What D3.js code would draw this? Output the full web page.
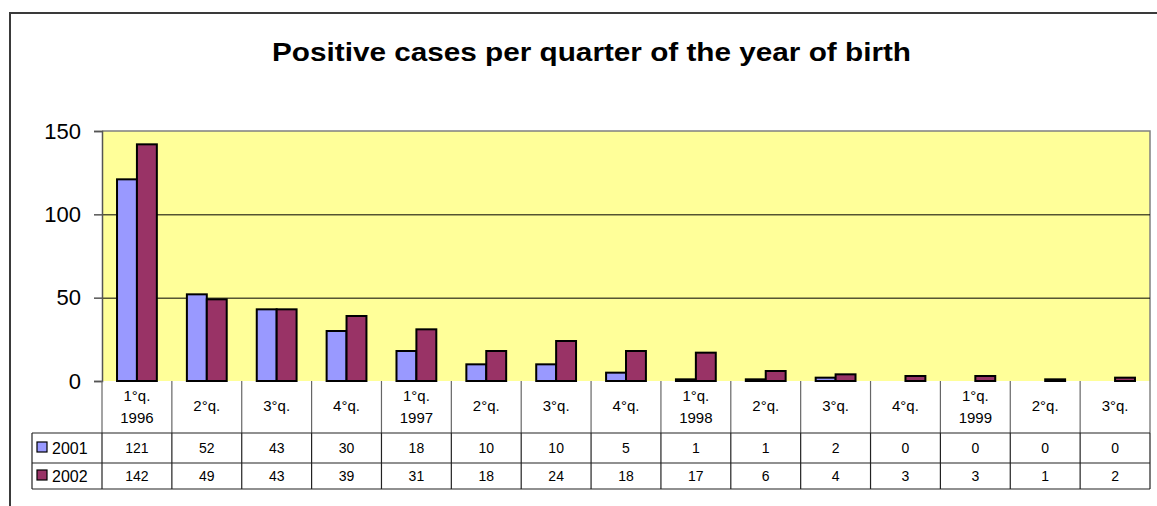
<!DOCTYPE html>
<html><head><meta charset="utf-8">
<script src="https://cdn.jsdelivr.net/npm/d3@7"></script>
<style>body{margin:0;background:#fff}svg{display:block;font-family:"Liberation Sans",Arial,sans-serif}</style>
</head><body><svg id="c" width="1157" height="506"></svg>
<script>
const title = "Positive cases per quarter of the year of birth";
const categories = [["1°q.","1996"],["2°q."],["3°q."],["4°q."],["1°q.","1997"],["2°q."],["3°q."],["4°q."],["1°q.","1998"],["2°q."],["3°q."],["4°q."],["1°q.","1999"],["2°q."],["3°q."]];
const seriesNames = ["2001","2002"];
const values2001 = [121,52,43,30,18,10,10,5,1,1,2,0,0,0,0];
const values2002 = [142,49,43,39,31,18,24,18,17,6,4,3,3,1,2];
const yTicks = [0,50,100,150];
const colors = ["#9999FF","#993366"];
const series = [values2001, values2002];

const svg = d3.select("#c");
const L = 102, R = 1150, T = 131, B = 381;
const x = d3.scaleBand().domain(d3.range(categories.length)).range([L,R]);
const bw = x.bandwidth();
const x1 = d3.scaleBand().domain(seriesNames).range([bw*0.215, bw*0.785]);
const y = d3.scaleLinear().domain([0,150]).range([B,T]);

// outer border
svg.append("path").attr("d","M10,520 L10,13 L1170,13").attr("fill","none").attr("stroke","#3a3a3a").attr("stroke-width",2);

// title
svg.append("text").attr("x",591.5).attr("y",61).attr("text-anchor","middle")
  .attr("font-size",25.5).attr("font-weight","bold")
  .attr("textLength",639).attr("lengthAdjust","spacingAndGlyphs").text(title);

// plot area
svg.append("rect").attr("x",L).attr("y",T).attr("width",R-L).attr("height",B-T).attr("fill","#FFFF99");
svg.append("path").attr("d",`M${L},${T} L${R},${T} L${R},${B}`).attr("fill","none").attr("stroke","#808080").attr("stroke-width",1.5);
// gridlines
svg.append("g").selectAll("line").data(yTicks.filter(v=>v>0&&v<150)).join("line")
  .attr("x1",L).attr("x2",R).attr("y1",d=>y(d)+0.5).attr("y2",d=>y(d)+0.5).attr("stroke","#000").attr("stroke-width",1);

// bars
series.forEach((vals,si)=>{
  svg.append("g").selectAll("rect").data(vals).join("rect")
    .attr("x",(d,i)=>x(i)+x1(seriesNames[si]))
    .attr("y",d=>y(d))
    .attr("width",x1.bandwidth())
    .attr("height",d=>B-y(d))
    .attr("fill",colors[si]).attr("stroke","#000").attr("stroke-width",2);
});

// y axis
const ax = svg.append("g").attr("transform",`translate(${L},0)`)
  .call(d3.axisLeft(y).tickValues(yTicks).tickSize(8).tickPadding(13).tickFormat(d3.format("d")));
ax.select(".domain").attr("stroke","#555").attr("stroke-width",1.5);
ax.selectAll(".tick line").attr("stroke","#555").attr("stroke-width",1.5);
ax.selectAll("text").attr("font-size",22).attr("font-family","Liberation Sans, Arial, sans-serif").attr("fill","#000");

// table
const tg = svg.append("g");
tg.selectAll("line.hv").data(d3.range(categories.length+1)).join("line")
  .attr("x1",i=>i<categories.length?x(i):R).attr("x2",i=>i<categories.length?x(i):R)
  .attr("y1",B).attr("y2",433).attr("stroke","#666").attr("stroke-width",1.2);
tg.selectAll("line.dv").data(d3.range(categories.length+1)).join("line")
  .attr("x1",i=>i<categories.length?x(i):R).attr("x2",i=>i<categories.length?x(i):R)
  .attr("y1",433).attr("y2",489).attr("stroke","#222").attr("stroke-width",1.2);
tg.append("line").attr("x1",32).attr("x2",32).attr("y1",433).attr("y2",489).attr("stroke","#222").attr("stroke-width",1.2);
[433,463,489].forEach(yy=>{
  tg.append("line").attr("x1",32).attr("x2",R).attr("y1",yy).attr("y2",yy).attr("stroke","#222").attr("stroke-width",1.2);
});
categories.forEach((lines,i)=>{
  const cx = x(i)+bw/2;
  const t = tg.append("text").attr("text-anchor","middle").attr("font-size",15).attr("fill","#000");
  if(lines.length===1){
    t.append("tspan").attr("x",cx).attr("y",411).text(lines[0]);
  } else {
    t.append("tspan").attr("x",cx).attr("y",401).text(lines[0]);
    t.append("tspan").attr("x",cx).attr("y",423).text(lines[1]);
  }
});
series.forEach((vals,si)=>{
  const base = si===0?453:481;
  tg.append("g").selectAll("text").data(vals).join("text")
    .attr("x",(d,i)=>x(i)+bw/2).attr("y",base).attr("text-anchor","middle").attr("font-size",14).text(d=>d);
  tg.append("rect").attr("x",37).attr("y",base-11).attr("width",10).attr("height",10)
    .attr("fill",colors[si]).attr("stroke","#000").attr("stroke-width",1.2);
  tg.append("text").attr("x",52).attr("y",base+1).attr("font-size",16).text(seriesNames[si]);
});
</script></body></html>
